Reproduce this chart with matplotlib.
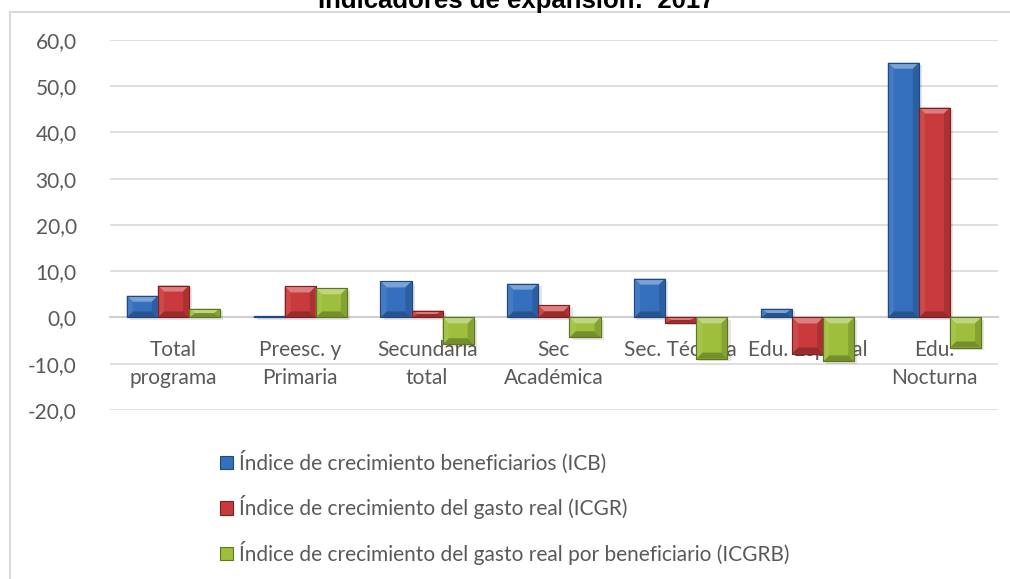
import matplotlib.pyplot as plt
import numpy as np
from matplotlib.lines import Line2D
from matplotlib.patches import Polygon
from matplotlib.colors import to_rgb

# Data
categorias = ['Total\nprograma', 'Preesc. y\nPrimaria', 'Secundaria\ntotal', 'Sec\nAcadémica',
              'Sec. Técnica', 'Edu. Especial', 'Edu.\nNocturna']
icb = [4.7, 0.3, 7.8, 7.3, 8.4, 1.9, 55.1]
icgr = [6.9, 6.7, 1.5, 2.6, -1.1, -7.8, 45.4]
icgrb = [1.9, 6.3, -5.8, -4.3, -8.9, -9.5, -6.5]
series_labels = ['Índice de crecimiento beneficiarios (ICB)',
                 'Índice de crecimiento del gasto real (ICGR)',
                 'Índice de crecimiento del gasto real por beneficiario (ICGRB)']
yticks = [-20, -10, 0, 10, 20, 30, 40, 50, 60]

colores = ['#3470BD', '#C93A3C', '#9DBF3C']
bordes = ['#1F4A80', '#7E2022', '#5E7620']

plt.rcParams['font.family'] = ['Lato', 'DejaVu Sans']
texto = '#595959'


def tono(c, f):
    r = np.array(to_rgb(c))
    if f > 0:
        return tuple(r + (1 - r) * f)
    return tuple(r * (1 + f))


fig = plt.figure(figsize=(10.1, 5.79), dpi=100)
ax = fig.add_axes([0.1089, 0.292, 0.8791, 0.6389])

# spine must be moved before tick labels are styled (set_position resets ticks)
for s in ['left', 'right', 'top']:
    ax.spines[s].set_visible(False)
ax.spines['bottom'].set_position(('data', 0))
ax.spines['bottom'].set_color('#d0d0d0')
ax.spines['bottom'].set_linewidth(1.5)
ax.spines['bottom'].set_zorder(1)

ax.set_xlim(-0.5, len(categorias) - 0.5)
ax.set_ylim(-20, 60)

# bevel size in data units (about 6 px)
dx = 6 * (len(categorias) / 888)
dy = 6 * (80 / 370)

x = np.arange(len(categorias))
w = 0.245
for i, vals in enumerate([icb, icgr, icgrb]):
    pos = x + (i - 1) * w
    ax.bar(pos + 0.025, vals, w, bottom=-0.5, color='#000000', alpha=0.10, zorder=2, linewidth=0)
    bars = ax.bar(pos, vals, w, color=colores[i], edgecolor=bordes[i], linewidth=0.8,
                  zorder=3, label=series_labels[i])
    for b in bars:
        x0, x1 = b.get_x(), b.get_x() + b.get_width()
        ylo, yhi = sorted([b.get_y(), b.get_y() + b.get_height()])
        ey = min(dy, (yhi - ylo) / 2)
        ex = dx
        caras = [
            ([(x0, yhi), (x1, yhi), (x1 - ex, yhi - ey), (x0 + ex, yhi - ey)], 0.35),
            ([(x0, ylo), (x1, ylo), (x1 - ex, ylo + ey), (x0 + ex, ylo + ey)], -0.25),
            ([(x0, yhi), (x0 + ex, yhi - ey), (x0 + ex, ylo + ey), (x0, ylo)], 0.08),
            ([(x1, yhi), (x1 - ex, yhi - ey), (x1 - ex, ylo + ey), (x1, ylo)], -0.15),
        ]
        for pts, f in caras:
            ax.add_patch(Polygon(pts, closed=True, facecolor=tono(colores[i], f),
                                 edgecolor='none', zorder=3.5))
        ax.add_patch(Polygon([(x0, ylo), (x1, ylo), (x1, yhi), (x0, yhi)], closed=True,
                             facecolor='none', edgecolor=bordes[i], linewidth=0.8, zorder=3.6))

ax.set_yticks(yticks)
ax.set_yticklabels([f'{v:.1f}'.replace('.', ',') for v in yticks], fontsize=15, color=texto)
ax.tick_params(axis='y', length=0, pad=24)
ax.grid(axis='y', color='#d9d9d9', linewidth=1.2, zorder=0)
ax.set_axisbelow(True)

ax.set_xticks(x)
ax.set_xticklabels(categorias, fontsize=15, color=texto, linespacing=1.55)
ax.tick_params(axis='x', length=0, pad=16)

leg = ax.legend(loc='upper left', bbox_to_anchor=(0.21, 1 - 442 / 579),
                bbox_transform=fig.transFigure, frameon=False, fontsize=15,
                labelcolor=texto, handlelength=0.6, handleheight=0.6,
                handletextpad=0.3, labelspacing=1.05, borderaxespad=0)

fig.text(0.511, 1 - 8 / 579, 'Indicadores de expansión:  2017', ha='center', va='baseline',
         fontsize=18.5, fontweight='bold', family='Liberation Sans')

# chart area border (left and top)
fig.add_artist(Line2D([9.5 / 1010, 9.5 / 1010], [0, 1 - 12 / 579], transform=fig.transFigure,
                      color='#d9d9d9', linewidth=1.5))
fig.add_artist(Line2D([9.5 / 1010, 1], [1 - 12 / 579, 1 - 12 / 579], transform=fig.transFigure,
                      color='#d9d9d9', linewidth=1.5))

fig.savefig('out.png', dpi=100)
